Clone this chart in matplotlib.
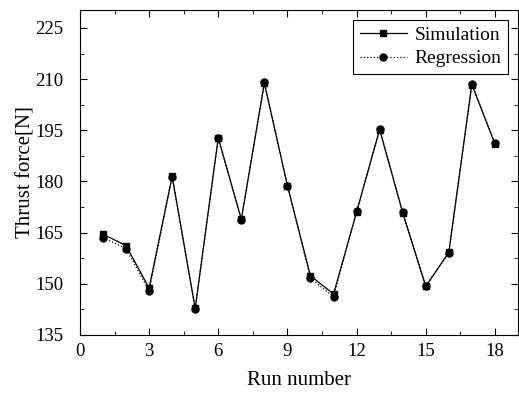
import matplotlib
matplotlib.use("Agg")
import matplotlib.pyplot as plt
from matplotlib.ticker import MultipleLocator

# donnees
runs = list(range(1, 19))
simulation = [164.5, 161.2, 148.7, 181.5, 142.8, 192.8, 168.9, 208.8, 178.8,
              152.3, 147.0, 171.0, 195.2, 170.8, 149.2, 159.2, 208.4, 191.0]
regression = [163.5, 160.3, 147.9, 181.3, 142.6, 192.6, 168.8, 209.1, 178.7,
              151.6, 146.2, 171.2, 195.4, 171.0, 149.4, 159.0, 208.6, 191.2]

plt.rcParams["font.family"] = ["Liberation Serif", "DejaVu Serif"]

fig = plt.figure(figsize=(5.19, 3.94), dpi=100)
ax = fig.add_axes([0.154, 0.150, 0.844, 0.825])

ax.plot(runs, simulation, "-", color="black", lw=0.9, marker="s", ms=5,
        label="Simulation")
ax.plot(runs, regression, ":", color="black", lw=0.9, marker="o", ms=5,
        label="Regression")

ax.set_xlim(0, 19)
ax.set_ylim(135, 230.3)
ax.xaxis.set_major_locator(MultipleLocator(3))
ax.xaxis.set_minor_locator(MultipleLocator(1.5))
ax.yaxis.set_major_locator(MultipleLocator(15))
ax.yaxis.set_minor_locator(MultipleLocator(7.5))
ax.tick_params(which="both", direction="in", top=True, right=True,
               labelsize=13.5)
ax.tick_params(which="major", length=5)
ax.tick_params(which="minor", length=3)
ax.tick_params(axis="x", which="major", pad=6)
ax.tick_params(axis="y", which="major", pad=12)

ax.set_xlabel("Run number", fontsize=15, labelpad=8)
ax.set_ylabel("Thrust force[N]", fontsize=15, labelpad=0)

leg = ax.legend(loc="upper right", fontsize=14, frameon=True, fancybox=False,
                edgecolor="black", handlelength=2.4, borderaxespad=0.5,
                labelspacing=0.3, handletextpad=0.4, borderpad=0.35,
                framealpha=1)
leg.get_frame().set_linewidth(0.8)

fig.savefig("out.png", dpi=100)
